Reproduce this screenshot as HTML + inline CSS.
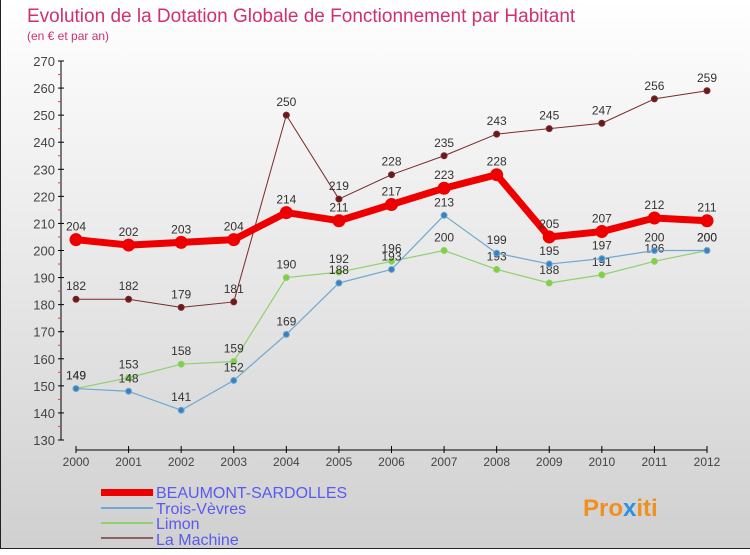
<!DOCTYPE html>
<html><head><meta charset="utf-8"><style>
body{margin:0;width:750px;height:550px;overflow:hidden;font-family:"Liberation Sans",sans-serif}
#c{position:absolute;left:0;top:0;width:749px;height:548px;border:1px solid #222;border-top:none;border-right:none;background:linear-gradient(#fff,#d0d0d0)}
</style></head><body>
<div id="c">
<svg width="750" height="550" id="s" font-family="Liberation Sans, sans-serif">
<text x="26" y="22" font-size="19" fill="#d03070">Evolution de la Dotation Globale de Fonctionnement par Habitant</text>
<text x="26" y="40" font-size="12" fill="#d03070">(en € et par an)</text>
<g id="axes"></g><g id="series"></g>
<g font-size="16" fill="#5a5af0">
<rect x="100" y="489" width="52" height="7" fill="#e00"/>
<text x="155" y="498">BEAUMONT-SARDOLLES</text>
<rect x="100" y="507" width="52" height="2" fill="#6fa8d0"/>
<text x="155" y="514">Trois-Vèvres</text>
<rect x="100" y="522" width="52" height="2" fill="#90d070"/>
<text x="155" y="529">Limon</text>
<rect x="100" y="537" width="52" height="2" fill="#906060"/>
<text x="155" y="545">La Machine</text>
</g>
<text x="582" y="516" font-size="24" font-weight="bold" fill="#f09020">Pro<tspan fill="#3090e0">x</tspan>iti</text>
</svg></div>
<script>
const years=[2000,2001,2002,2003,2004,2005,2006,2007,2008,2009,2010,2011,2012];
const beaumont=[204,202,203,204,214,211,217,223,228,205,207,212,211];
const trois=[149,148,141,152,169,188,193,213,199,195,197,200,200];
const limon=[149,153,158,159,190,192,196,200,193,188,191,196,200];
const machine=[182,182,179,181,250,219,228,235,243,245,247,256,259];
const yTicks=[130,140,150,160,170,180,190,200,210,220,230,240,250,260,270];
const NS="http://www.w3.org/2000/svg";
const X=i=>75+i*(706-75)/12, Y=v=>440-(v-130)*379/140;
function mk(t,a,p){const e=document.createElementNS(NS,t);for(const k in a)e.setAttribute(k,a[k]);p.appendChild(e);return e;}
const ax=document.getElementById('axes'),sr=document.getElementById('series');
const ya=mk('line',{x1:60,x2:60,y1:Y(270),y2:Y(130),stroke:'#000'},ax);


yTicks.forEach(v=>{mk('line',{x1:57,x2:63,y1:Y(v),y2:Y(v),stroke:'#000'},ax);
if(v<270)mk('line',{x1:57,x2:60,y1:Y(v+5),y2:Y(v+5),stroke:'#f33'},ax);
const t=mk('text',{x:54,y:Y(v)+5,'text-anchor':'end','font-size':13,fill:'#444'},ax);t.textContent=v;

});
const xa=mk('line',{x1:X(0),x2:X(12),y1:450,y2:450,stroke:'#000'},ax);


years.forEach((y,i)=>{mk('line',{x1:X(i),x2:X(i),y1:446,y2:453,stroke:'#000'},ax);
const t=mk('text',{x:X(i),y:466,'text-anchor':'middle','font-size':12,fill:'#444'},ax);t.textContent=y;

});
function draw(d,col,w,r,dot,name,lab){
const g=mk('g',{},sr);


mk('polyline',{points:d.map((v,i)=>X(i)+','+Y(v)).join(' '),fill:'none',stroke:col,'stroke-width':w,'stroke-linejoin':'round'},g);
d.forEach((v,i)=>{const c=mk('circle',{cx:X(i),cy:Y(v),r:r,fill:dot,stroke:col,'stroke-width':1},g);


if(lab){const t=mk('text',{x:X(i),y:Y(v)-9,'text-anchor':'middle','font-size':12,fill:'#333'},g);t.textContent=v;}});}
draw(machine,'#7a2a2a',1,3,'#6a1a1a','series-la-machine',true);
draw(limon,'#90d070',1.2,3,'#80d040','series-limon',true);
draw(trois,'#6fa8d0',1.2,3,'#3a80c0','series-trois-vevres',true);
draw(beaumont,'#ee0000',7,6,'#ee0000','series-beaumont',true);
</script>
</body></html>
